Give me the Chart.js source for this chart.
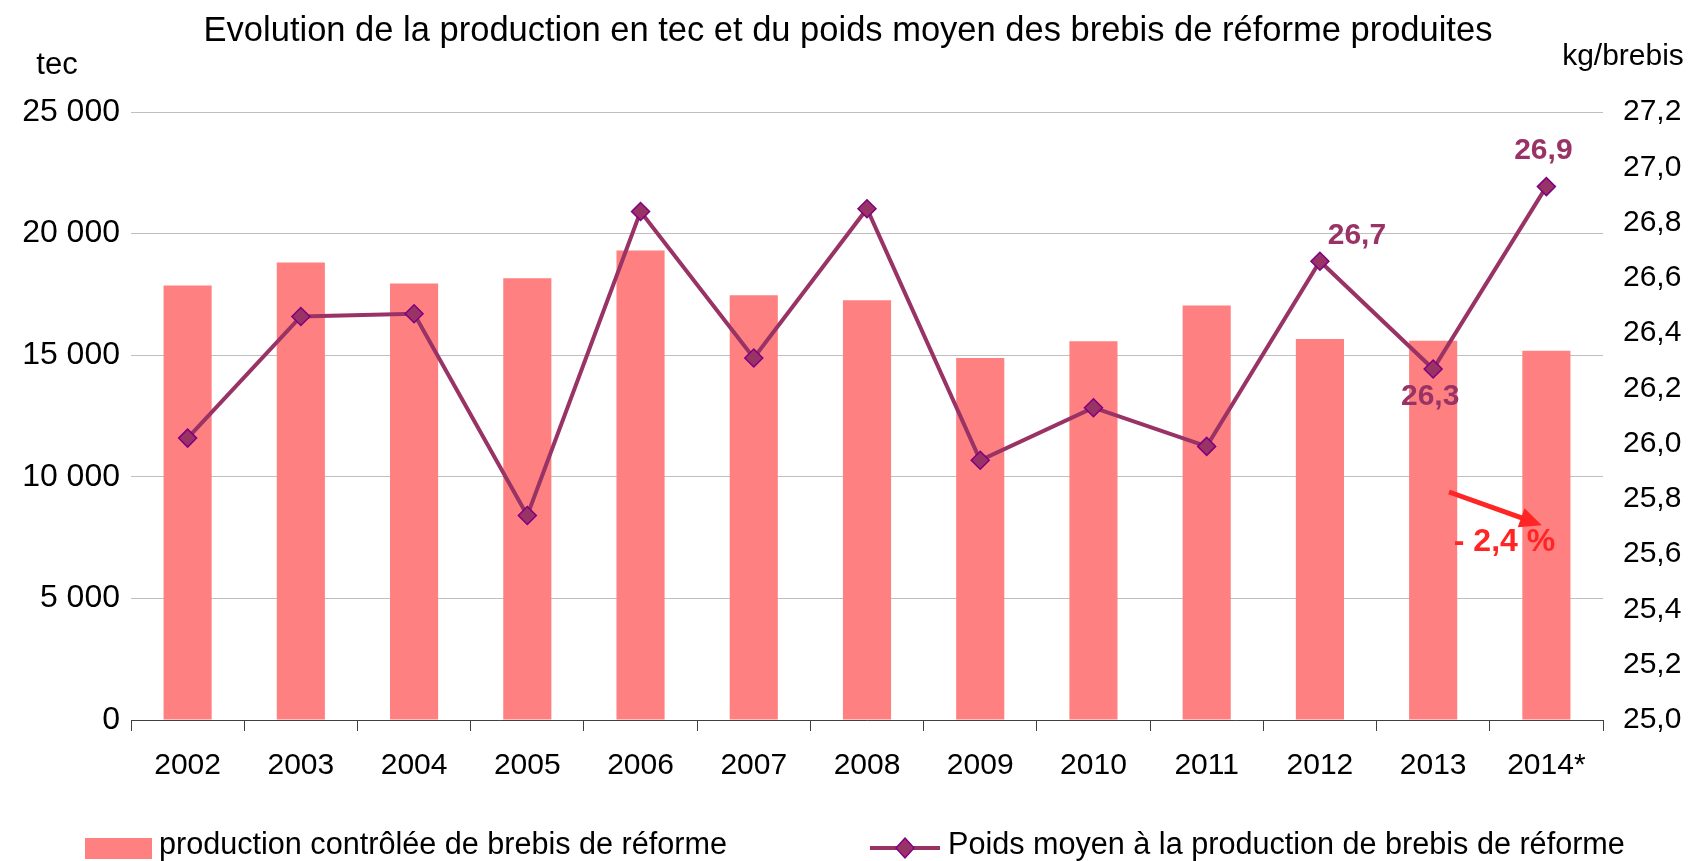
<!DOCTYPE html>
<html>
<head>
<meta charset="utf-8">
<script src="https://cdn.jsdelivr.net/npm/chart.js@4.4.0/dist/chart.umd.min.js"></script>
<style>
  body { margin: 0; background: #fff; }
  canvas { display: block; }
</style>
</head>
<body>
<canvas id="chart" width="1692" height="861"></canvas>
<script>
// années
const years = ['2002', '2003', '2004', '2005', '2006', '2007', '2008', '2009', '2010', '2011', '2012', '2013', '2014*'];
// production contrôlée (tec)
const production = [17870, 18810, 17950, 18160, 19300, 17460, 17260, 14880, 15570, 17040, 15670, 15590, 15180];
// poids moyen (kg/brebis)
const poids = [26.02, 26.46, 26.47, 25.74, 26.84, 26.31, 26.85, 25.94, 26.13, 25.99, 26.66, 26.27, 26.93];
// points étiquetés
const labelled = [10, 11, 12];

const FONT = 'Arial, "Liberation Sans", sans-serif';
const barColor = '#FF8080';
const lineColor = '#993366';

const fmtThousands = v => String(v).replace(/\B(?=(\d{3})+(?!\d))/g, ' ');
const fmtDec = v => v.toFixed(1).replace('.', ',');

// titre, unités, étiquettes, flèche et légende
const extras = {
  id: 'extras',
  afterDatasetsDraw(chart) {
    const ctx = chart.ctx;
    const x = chart.scales.x, y1 = chart.scales.y1;
    ctx.save();
    ctx.fillStyle = '#000';
    ctx.textBaseline = 'middle';
    ctx.textAlign = 'center';
    ctx.font = '34.5px ' + FONT;
    ctx.fillText('Evolution de la production en tec et du poids moyen des brebis de réforme produites', 848, 31);
    ctx.font = '31px ' + FONT;
    ctx.fillText('tec', 57, 65);
    ctx.font = '30px ' + FONT;
    ctx.fillText('kg/brebis', 1623, 57);

    // étiquettes de données
    const offs = {10: [37, -26], 11: [-3, 28], 12: [-3, -36]};
    ctx.font = 'bold 30px ' + FONT;
    ctx.fillStyle = lineColor;
    labelled.forEach(i => {
      const px = x.getPixelForValue(i), py = y1.getPixelForValue(poids[i]);
      ctx.fillText(fmtDec(poids[i]), px + offs[i][0], py + offs[i][1]);
    });

    // flèche d'évolution
    const sx = x.getPixelForValue(11.14), sy = y1.getPixelForValue(25.825);
    const ex = x.getPixelForValue(11.96), ey = y1.getPixelForValue(25.705);
    const ang = Math.atan2(ey - sy, ex - sx);
    ctx.strokeStyle = '#FF2525';
    ctx.fillStyle = '#FF2525';
    ctx.lineWidth = 5;
    ctx.beginPath();
    ctx.moveTo(sx, sy);
    ctx.lineTo(ex - 14 * Math.cos(ang), ey - 14 * Math.sin(ang));
    ctx.stroke();
    ctx.beginPath();
    ctx.moveTo(ex, ey);
    ctx.lineTo(ex - 22 * Math.cos(ang) + 10 * Math.sin(ang), ey - 22 * Math.sin(ang) - 10 * Math.cos(ang));
    ctx.lineTo(ex - 22 * Math.cos(ang) - 10 * Math.sin(ang), ey - 22 * Math.sin(ang) + 10 * Math.cos(ang));
    ctx.closePath();
    ctx.fill();
    ctx.font = 'bold 32px ' + FONT;
    ctx.fillText('- 2,4 %', x.getPixelForValue(11.63), y1.getPixelForValue(25.645));

    // légende
    const ds = chart.data.datasets;
    ctx.textAlign = 'left';
    ctx.font = '30.6px ' + FONT;
    ctx.fillStyle = barColor;
    ctx.fillRect(85, 838, 67, 21);
    ctx.fillStyle = '#000';
    ctx.fillText(ds[1].label, 159, 846);
    ctx.strokeStyle = lineColor;
    ctx.lineWidth = 4;
    ctx.beginPath();
    ctx.moveTo(870, 848);
    ctx.lineTo(940, 848);
    ctx.stroke();
    ctx.beginPath();
    ctx.moveTo(905, 838); ctx.lineTo(914, 848); ctx.lineTo(905, 858); ctx.lineTo(896, 848);
    ctx.closePath();
    ctx.fillStyle = lineColor;
    ctx.fill();
    ctx.strokeStyle = '#800080';
    ctx.lineWidth = 1.5;
    ctx.stroke();
    ctx.fillStyle = '#000';
    ctx.fillText(ds[0].label, 948, 846);
    ctx.restore();
  }
};

new Chart(document.getElementById('chart'), {
  data: {
    labels: years,
    datasets: [
      {
        type: 'line',
        label: 'Poids moyen à la production de brebis de réforme',
        data: poids,
        yAxisID: 'y1',
        order: 0,
        borderColor: lineColor,
        borderWidth: 4,
        tension: 0,
        pointStyle: 'rectRot',
        pointRadius: 9,
        pointBackgroundColor: lineColor,
        pointBorderColor: '#800080',
        pointBorderWidth: 1.5
      },
      {
        type: 'bar',
        label: 'production contrôlée de brebis de réforme',
        data: production,
        yAxisID: 'y',
        order: 1,
        backgroundColor: barColor,
        barPercentage: 0.425,
        categoryPercentage: 1
      }
    ]
  },
  options: {
    responsive: false,
    animation: false,
    layout: { padding: { top: 112, bottom: 71, left: 0, right: 0 } },
    plugins: { legend: { display: false }, tooltip: { enabled: false } },
    scales: {
      x: {
        offset: true,
        grid: { offset: true, drawOnChartArea: false, drawTicks: true, tickLength: 11, color: '#404040' },
        border: { display: true, color: '#404040', width: 1 },
        ticks: { color: '#000', font: { size: 30, family: FONT }, padding: 17, maxRotation: 0 },
        afterFit: s => { s.height = 70; }
      },
      y: {
        position: 'left',
        min: 0, max: 25000,
        ticks: { stepSize: 5000, color: '#000', font: { size: 32, family: FONT }, padding: 11, callback: v => fmtThousands(v) },
        grid: { color: '#BFBFBF', drawTicks: false },
        border: { display: false },
        afterFit: s => { s.width = 131; }
      },
      y1: {
        position: 'right',
        min: 25, max: 27.2,
        ticks: { stepSize: 0.2, color: '#000', font: { size: 30, family: FONT }, padding: 12, callback: v => fmtDec(v) },
        grid: { display: false },
        border: { display: false },
        afterFit: s => { s.width = 89; }
      }
    }
  },
  plugins: [extras]
});
</script>
</body>
</html>
